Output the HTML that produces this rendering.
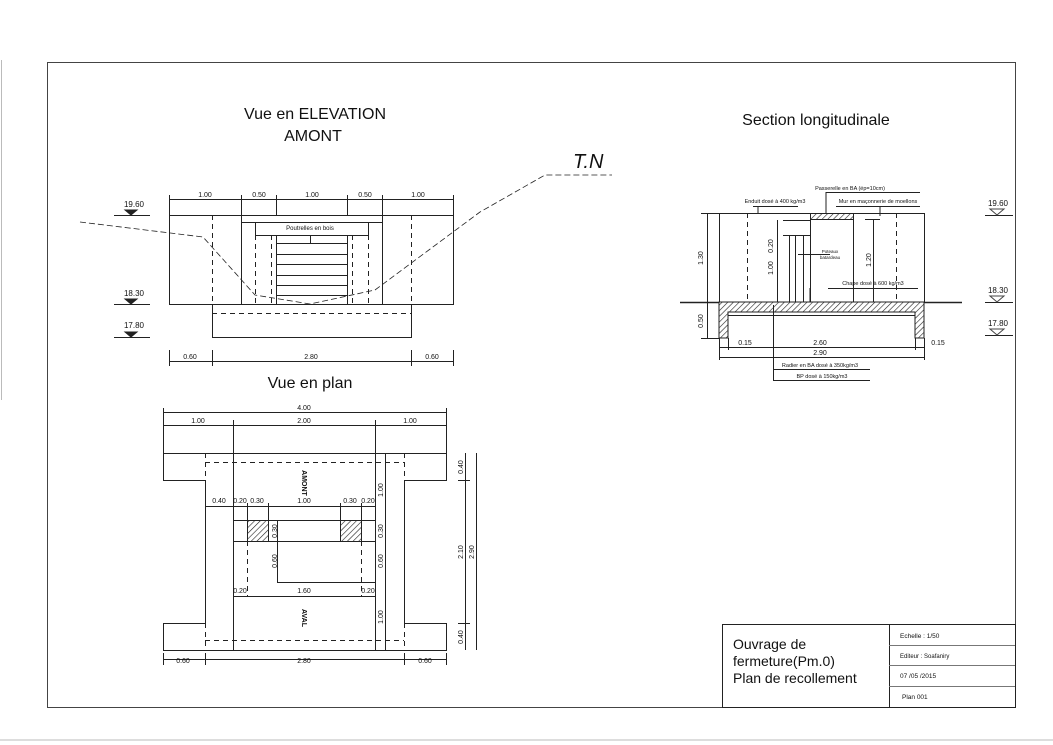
<!DOCTYPE html>
<html><head><meta charset="utf-8"><style>
html,body{margin:0;padding:0;background:#fff;}
svg{display:block;font-family:"Liberation Sans",sans-serif;}
</style></head><body>
<svg width="1053" height="745" viewBox="0 0 1053 745" xmlns="http://www.w3.org/2000/svg">
<defs>
<pattern id="h" width="4" height="4" patternUnits="userSpaceOnUse" patternTransform="rotate(45)">
<rect width="4" height="4" fill="#fff"/><line x1="0" y1="0" x2="0" y2="4" stroke="#222" stroke-width="1.2"/></pattern>
</defs>
<g fill="none" stroke="#222" stroke-width="1">
<!-- frame -->
<rect x="47.5" y="62.5" width="968" height="645" stroke="#444"/>
<line x1="0" y1="740" x2="1053" y2="740" stroke="#bbb"/>
<line x1="1.5" y1="60" x2="1.5" y2="400" stroke="#bbb"/>
<!-- title block -->
<rect x="722.5" y="624.5" width="293" height="83"/>
<line x1="889.5" y1="624" x2="889.5" y2="707"/>
<line x1="889" y1="645.5" x2="1015" y2="645.5" stroke="#777"/>
<line x1="889" y1="665.5" x2="1015" y2="665.5" stroke="#777"/>
<line x1="889" y1="686.5" x2="1015" y2="686.5" stroke="#777"/>

<!-- ELEVATION -->
<line x1="169" y1="199.5" x2="453" y2="199.5"/>
<path d="M169.5 195V215M241.5 195V215M276.5 195V215M347.5 195V215M382.5 195V215M453.5 195V215"/>
<rect x="169.5" y="215.5" width="284" height="89"/>
<path d="M241.5 215V304M382.5 215V304M241 222.5H382"/>
<path d="M255.5 222V235.5H368.5V222M276.5 235V304M347.5 235V304"/>
<path d="M276 243.5H347M276 254.5H347M276 264.5H347M276 275.5H347M276 285.5H347M276 295.5H347M310.5 235V243"/>
<path d="M255.5 235V304M271.5 235V304M352.5 235V304M368.5 235V304M212.5 215V304M411.5 215V304" stroke-dasharray="5,4"/>
<rect x="212.5" y="304.5" width="199" height="33"/>
<line x1="212" y1="313.5" x2="411" y2="313.5" stroke-dasharray="5,4"/>
<line x1="169" y1="361.5" x2="453" y2="361.5"/>
<path d="M169.5 350V366M212.5 350V366M411.5 350V366M453.5 350V366"/>
<path d="M80 222L203 237L255 295L310 304L375 290L480 212L545 175H612" stroke-dasharray="6,3" stroke-width="0.8"/>
<!-- levels left -->
<path d="M114 215.5H150M114 304.5H150M114 337.5H150"/>
<path d="M125 210L137 210L131 215Z M125 299L137 299L131 304Z M125 332L137 332L131 337Z" fill="#222"/>

<!-- SECTION -->
<line x1="680" y1="302.5" x2="962" y2="302.5" stroke-width="1.5"/>
<rect x="719.5" y="213.5" width="205" height="89"/>
<path d="M747.5 213V302M896.5 213V302" stroke-dasharray="5,4"/>
<path d="M719 302H924V338H915V312H728V338H719Z" fill="url(#h)"/>
<path d="M728 315.5H915"/>
<rect x="810.5" y="213.5" width="43" height="6" fill="url(#h)"/>
<path d="M810.5 213V302M853.5 219V302M777.5 220V302M789.5 235V302M795.5 235V302M803.5 235V302M783 235.5H810M783 220.5H810"/>
<path d="M873.5 219V302M865 219.5H880"/>
<path d="M707.5 213V338M701 213.5H719M701 338.5H719"/>
<path d="M719 347.5H924M719 357.5H924M719.5 338V360M728.5 338V350M915.5 338V350M924.5 338V360"/>
<path d="M773.5 305V380M773 369.5H870M773 380.5H870"/>
<path d="M753 206.5H798M758 206V213M826 192.5H920M826 192V213M836 206.5H920M880 206V216"/>
<path d="M798 254.5H830M828 288.5H918M810 288V302"/>
<!-- levels right -->
<path d="M985 215.5H1013M985 302.5H1013M985 335.5H1013"/>
<path d="M990 209L1004 209L997 215Z M990 296L1004 296L997 302Z M990 329L1004 329L997 335Z" stroke="#444"/>

<!-- PLAN -->
<line x1="163" y1="412.5" x2="446" y2="412.5"/>
<line x1="163" y1="425.5" x2="446" y2="425.5"/>
<path d="M163.5 408V453M233.5 420V453M375.5 420V453M446.5 408V453"/>
<path d="M163.5 453.5H446.5V480.5H404.5V623.5H446.5V650.5H163.5V623.5H205.5V480.5H163.5Z"/>
<path d="M233.5 453V650M375.5 453V650"/>
<path d="M205 462.5H404M205 640.5H404M205.5 453V480M205.5 623V650M404.5 453V480M404.5 623V650" stroke-dasharray="5,4"/>
<path d="M205 506.5H375M247.5 503V520M268.5 503V520M340.5 503V520M361.5 503V520"/>
<rect x="233.5" y="520.5" width="142" height="21"/>
<rect x="247.5" y="520.5" width="21" height="21" fill="url(#h)"/>
<rect x="340.5" y="520.5" width="21" height="21" fill="url(#h)"/>
<path d="M277.5 520V582M277 582.5H375M233 596.5H375"/>
<path d="M247.5 541V596M361.5 541V596" stroke-dasharray="5,4"/>
<path d="M385.5 453V650M465.5 453V650M476.5 453V650M458 480.5H470M458 623.5H470"/>
<path d="M163 659.5H446M163.5 653V665M205.5 653V665M404.5 653V665M446.5 653V665"/>
</g>

<g fill="#111" font-size="7" text-anchor="middle">
<text x="205" y="197">1.00</text><text x="259" y="197">0.50</text><text x="312" y="197">1.00</text><text x="365" y="197">0.50</text><text x="418" y="197">1.00</text>
<text x="310" y="230" font-size="6">Poutrelles en bois</text>
<text x="190" y="359">0.60</text><text x="311" y="359">2.80</text><text x="432" y="359">0.60</text>
<text x="134" y="207" font-size="8">19.60</text><text x="134" y="296" font-size="8">18.30</text><text x="134" y="328" font-size="8">17.80</text>
<text x="998" y="206" font-size="8">19.60</text><text x="998" y="293" font-size="8">18.30</text><text x="998" y="326" font-size="8">17.80</text>
<text x="850" y="190" font-size="5.5">Passerelle en BA (ép=10cm)</text>
<text x="775" y="203" font-size="5.5">Enduit dosé à 400 kg/m3</text>
<text x="878" y="203" font-size="5.5">Mur en maçonnerie de moellons</text>
<text x="830" y="253" font-size="4.5">Poteaux</text><text x="830" y="259" font-size="4.5">batardeau</text>
<text x="873" y="285" font-size="5.5">Chape dosé à 600 kg/m3</text>
<text x="745" y="345">0.15</text><text x="820" y="345">2.60</text><text x="938" y="345">0.15</text><text x="820" y="355">2.90</text>
<text x="820" y="367" font-size="5.5">Radier en BA dosé à 350kg/m3</text>
<text x="822" y="378" font-size="5.5">BP dosé à 150kg/m3</text>
<text transform="translate(703,258) rotate(-90)">1.30</text>
<text transform="translate(703,321) rotate(-90)">0.50</text>
<text transform="translate(773,268) rotate(-90)">1.00</text>
<text transform="translate(773,246) rotate(-90)">0.20</text>
<text transform="translate(871,260) rotate(-90)">1.20</text>
<text x="304" y="410">4.00</text><text x="198" y="423">1.00</text><text x="304" y="423">2.00</text><text x="410" y="423">1.00</text>
<text x="219" y="503">0.40</text><text x="240" y="503">0.20</text><text x="257" y="503">0.30</text><text x="304" y="503">1.00</text><text x="350" y="503">0.30</text><text x="368" y="503">0.20</text>
<text x="240" y="593">0.20</text><text x="304" y="593">1.60</text><text x="368" y="593">0.20</text>
<text x="183" y="663">0.60</text><text x="304" y="663">2.80</text><text x="425" y="663">0.60</text>
<text transform="translate(383,490) rotate(-90)">1.00</text>
<text transform="translate(383,531) rotate(-90)">0.30</text>
<text transform="translate(383,561) rotate(-90)">0.60</text>
<text transform="translate(383,617) rotate(-90)">1.00</text>
<text transform="translate(277,531) rotate(-90)">0.30</text>
<text transform="translate(277,561) rotate(-90)">0.60</text>
<text transform="translate(463,467) rotate(-90)">0.40</text>
<text transform="translate(463,552) rotate(-90)">2.10</text>
<text transform="translate(463,637) rotate(-90)">0.40</text>
<text transform="translate(474,552) rotate(-90)">2.90</text>
<text transform="translate(302,483) rotate(90)" font-weight="bold">AMONT</text>
<text transform="translate(302,618) rotate(90)" font-weight="bold">AVAL</text>
</g>
<g fill="#111">
<text x="315" y="119" font-size="16" text-anchor="middle">Vue en ELEVATION</text>
<text x="313" y="141" font-size="16" text-anchor="middle">AMONT</text>
<text x="310" y="388" font-size="16" text-anchor="middle">Vue en plan</text>
<text x="816" y="125" font-size="16" text-anchor="middle">Section longitudinale</text>
<text x="573" y="168" font-size="20" font-style="italic">T.N</text>
<text x="733" y="649" font-size="14">Ouvrage de</text>
<text x="733" y="666" font-size="14">fermeture(Pm.0)</text>
<text x="733" y="683" font-size="14">Plan de recollement</text>
<text x="900" y="638" font-size="6.5">Echelle : 1/50</text>
<text x="900" y="658" font-size="6">Editeur : Soafaniry</text>
<text x="900" y="678" font-size="6.5">07 /05 /2015</text>
<text x="902" y="699" font-size="6.5">Plan 001</text>
</g>
</svg>
</body></html>
